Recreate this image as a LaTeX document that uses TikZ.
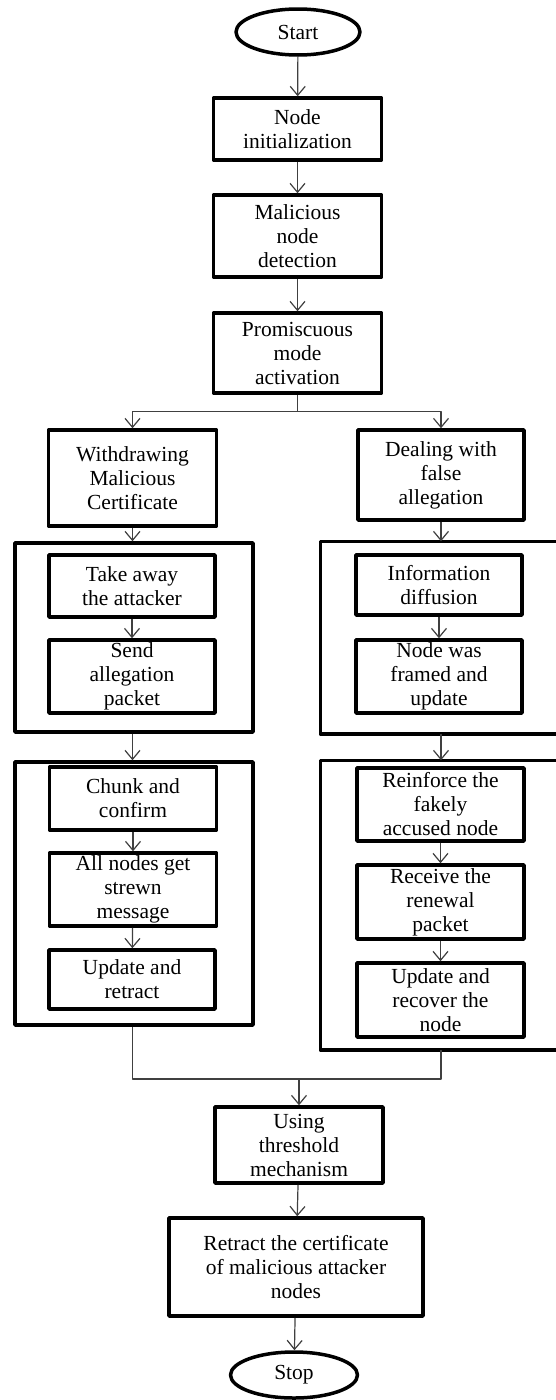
\documentclass[tikz,border=0pt]{standalone}
\usepackage{fontspec}
\setmainfont{Liberation Serif}
\usetikzlibrary{arrows.meta,shapes.geometric}
\begin{document}
\begin{tikzpicture}[x=1pt,y=-1pt,>={Straight Barb[length=9pt,width=15pt]}, font=\fontsize{21.5}{24}\selectfont, line join=round]
	\tikzset{box/.style={draw,line width=3.5pt,align=center,inner sep=1pt,minimum width=168pt},
		term/.style={draw,ellipse,line width=3.5pt,minimum width=124pt,minimum height=46pt,inner sep=0pt},
		frame/.style={line width=3.5pt,minimum width=238pt},
		link/.style={line width=1.2pt,draw=black!75}}
	\useasboundingbox (0,0) rectangle (556,1400);
	\node[term] (start) at (298,32) {Start};
	\node[box,minimum height=62pt] (init) at (297.5,129) {Node\\initialization};
	\node[box,minimum height=82pt] (detect) at (297.5,236) {Malicious\\node\\detection};
	\node[box,minimum height=80pt] (promis) at (297.5,353) {Promiscuous\\mode\\activation};
	\node[box,minimum height=96pt] (withdraw) at (132.5,478) {Withdrawing\\Malicious\\Certificate};
	\node[box,minimum height=90pt,minimum width=166pt] (deal) at (441,475) {Dealing with\\false\\allegation};
	% first pair of frames
	\node[frame,draw,minimum height=189pt] (fL1) at (134,637.5) {};
	\node[frame,minimum width=234pt,minimum height=189pt] (fR1) at (439,637.5) {};
	\draw[line width=3.5pt] (fR1.north east) -- (fR1.north west) -- (fR1.south west) -- (fR1.south east);
	\node[box,minimum height=62pt,minimum width=166pt] (take) at (132,586) {Take away\\the attacker};
	\node[box,minimum height=73pt,minimum width=166pt] (send) at (132,676.5) {Send\\allegation\\packet};
	\node[box,minimum height=60pt,minimum width=166pt] (info) at (439,585) {Information\\diffusion};
	\node[box,minimum height=73pt,minimum width=166pt] (framed) at (439,676.5) {Node was\\framed and\\update};
	% second pair of frames
	\node[frame,draw,minimum height=263pt] (fL2) at (134,893.5) {};
	\node[frame,minimum width=234pt,minimum height=286pt] (fR2) at (439,905) {};
	\draw[line width=3.5pt] (fR2.north east) -- (fR2.north west) -- (fR2.south west) -- (fR2.south east);
	\node[box,minimum height=63pt,minimum width=167pt] (chunk) at (133,798.5) {Chunk and\\confirm};
	\node[box,minimum height=73pt,minimum width=167pt] (strewn) at (133,889.5) {All nodes get\\strewn\\message};
	\node[box,minimum height=59pt,minimum width=166pt] (retr) at (132,979.5) {Update and\\retract};
	\node[box,minimum height=73pt,minimum width=167pt] (reinf) at (440.5,804.5) {Reinforce the\\fakely\\accused node};
	\node[box,minimum height=74pt,minimum width=167pt] (renew) at (440.5,902) {Receive the\\renewal\\packet};
	\node[box,minimum height=74pt,minimum width=167pt] (recov) at (440.5,1000) {Update and\\recover the\\node};
	\node[box,minimum height=76pt] (thresh) at (299,1145) {Using\\threshold\\mechanism};
	\node[box,minimum height=98pt,minimum width=254pt] (retract) at (296,1267) {Retract the certificate\\of malicious attacker\\nodes};
	\node[term,minimum width=127pt] (stop) at (294,1375) {Stop};
	% connectors
	\draw[link,->] (start) -- (init);
	\draw[link,->] (init) -- (detect);
	\draw[link,->] (detect) -- (promis);
	\draw[link] (promis.south) -- ++(0,17) coordinate (fork);
	\draw[link,->] (fork) -| (withdraw.north);
	\draw[link,->] (fork) -| (deal.north);
	\draw[link,->] (withdraw.south) -- (withdraw.south |- fL1.north);
	\draw[link,->] (deal.south) -- (deal.south |- fR1.north);
	\draw[link,->] (take) -- (send);
	\draw[link,->] (info) -- (framed);
	\draw[link,->] (fL1.south -| withdraw) -- (fL2.north -| withdraw);
	\draw[link,->] (fR1.south -| deal) -- (fR2.north -| deal);
	\draw[link,->] (chunk) -- (strewn);
	\draw[link,->] (strewn) -- (retr);
	\draw[link,->] (reinf) -- (renew);
	\draw[link,->] (renew) -- (recov);
	\coordinate (merge) at (299,1079);
	\draw[link] (fL2.south -| withdraw) |- (merge) -| (fR2.south -| deal);
	\draw[link,->] (merge) -- (thresh);
	\draw[link,->] (thresh) -- (retract);
	\draw[link,->] (retract) -- (stop);
\end{tikzpicture}
\end{document}
